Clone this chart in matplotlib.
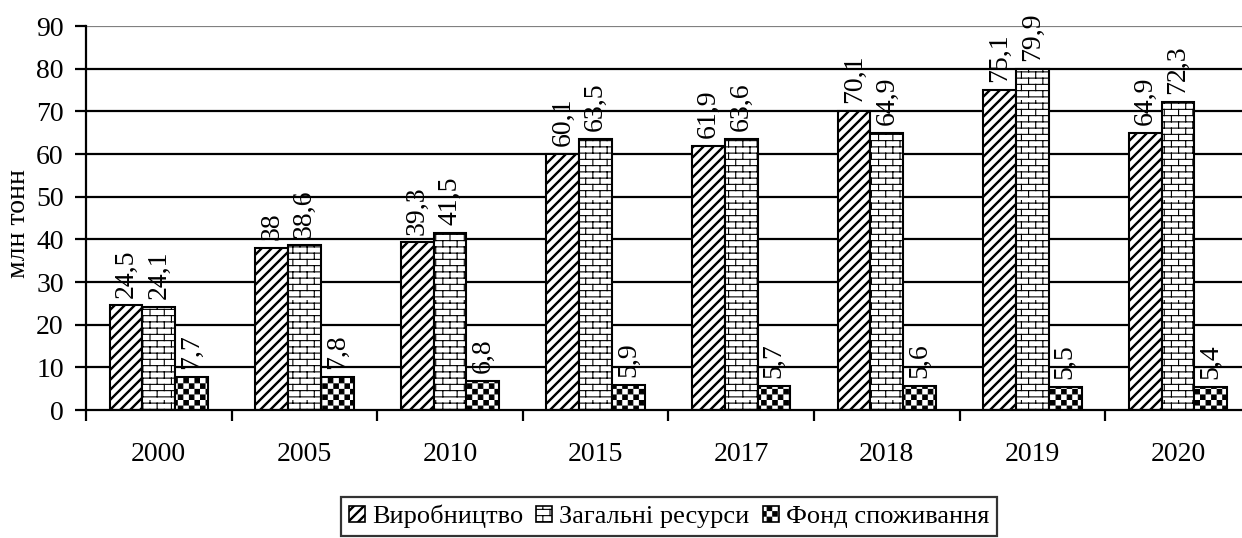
import numpy as np
import matplotlib
matplotlib.use("Agg")
import matplotlib.pyplot as plt
import matplotlib.hatch as mhatch
from matplotlib.path import Path
from matplotlib.patches import Patch

# ---------------- data ----------------
years = ["2000", "2005", "2010", "2015", "2017", "2018", "2019", "2020"]
production = [24.5, 38, 39.3, 60.1, 61.9, 70.1, 75.1, 64.9]
total_resources = [24.1, 38.6, 41.5, 63.5, 63.6, 64.9, 79.9, 72.3]
consumption = [7.7, 7.8, 6.8, 5.9, 5.7, 5.6, 5.5, 5.4]
series_names = ["Виробництво", "Загальні ресурси", "Фонд споживання"]
y_label = "млн тонн"
y_ticks = [0, 10, 20, 30, 40, 50, 60, 70, 80, 90]


# ---------------- custom hatches ----------------
class ThickDiag(mhatch.HatchPatternBase):
    def __init__(self, hatch, density):
        self.n = 10 if '/' in hatch else 0
        self.k = list(range(-self.n, self.n + 1)) if self.n else []
        self.num_vertices = 5 * len(self.k)

    def set_vertices_and_codes(self, vertices, codes):
        w = 0.009
        for idx, k in enumerate(self.k):
            c = k / self.n
            pts = [(c - w, 0), (c + w, 0), (c + 1 + w, 1), (c + 1 - w, 1), (c - w, 0)]
            vertices[idx * 5:(idx + 1) * 5] = pts
            codes[idx * 5:(idx + 1) * 5] = [Path.MOVETO, Path.LINETO, Path.LINETO,
                                            Path.LINETO, Path.CLOSEPOLY]


class Brick(mhatch.HatchPatternBase):
    rows = 16
    cols = 7

    def __init__(self, hatch, density):
        self.on = '-' in hatch
        if self.on:
            self.num_vertices = 2 * self.rows + 2 * self.rows * (self.cols + 1)
        else:
            self.num_vertices = 0

    def set_vertices_and_codes(self, vertices, codes):
        segs = []
        for j in range(self.rows):
            y = (j + 0.5) / self.rows
            segs.append(((0.0, y), (1.0, y)))
        for j in range(self.rows):
            y0 = (j + 0.5) / self.rows
            y1 = (j + 1.5) / self.rows
            off = 0.5 * (j % 2)
            for i in range(self.cols + 1):
                x = (i + off) / self.cols
                segs.append(((x, y0), (x, y1)))
        for idx, (a, b) in enumerate(segs):
            vertices[2 * idx] = a
            vertices[2 * idx + 1] = b
            codes[2 * idx] = Path.MOVETO
            codes[2 * idx + 1] = Path.LINETO


class Checker(mhatch.HatchPatternBase):
    cells = 18

    def __init__(self, hatch, density):
        if '.' in hatch:
            self.sq = [(i, j) for i in range(self.cells) for j in range(self.cells)
                       if (i + j) % 2 == 0]
        else:
            self.sq = []
        self.num_vertices = 5 * len(self.sq)

    def set_vertices_and_codes(self, vertices, codes):
        c = 1.0 / self.cells
        s = c - 0.011
        for idx, (i, j) in enumerate(self.sq):
            x0 = i * c + (c - s) / 2
            y0 = j * c + (c - s) / 2
            pts = [(x0, y0), (x0 + s, y0), (x0 + s, y0 + s), (x0, y0 + s), (x0, y0)]
            vertices[idx * 5:(idx + 1) * 5] = pts
            codes[idx * 5:(idx + 1) * 5] = [Path.MOVETO, Path.LINETO, Path.LINETO,
                                            Path.LINETO, Path.CLOSEPOLY]


mhatch._hatch_types = [ThickDiag, Brick, Checker]

plt.rcParams['font.family'] = ['Liberation Serif', 'DejaVu Serif']
plt.rcParams['hatch.linewidth'] = 0.8
plt.rcParams['hatch.color'] = 'black'

# ---------------- figure ----------------
W, H = 1242, 538
fig = plt.figure(figsize=(W / 100, H / 100), dpi=100)
ax = fig.add_axes([86 / W, (H - 410) / H, 8 * 145.6 / W, 384 / H])

x = np.arange(len(years))
bw = 0.225
hatches = ['/', '-', '.']
all_series = [production, total_resources, consumption]

ax.set_xlim(-0.5, len(years) - 0.5)
ax.set_ylim(0, 90)

# gridlines
for yv in y_ticks[1:]:
    ax.axhline(yv, color='#808080' if yv == 90 else 'black', lw=1.6, zorder=1)

for k, (vals, h) in enumerate(zip(all_series, hatches)):
    pos = x + (k - 1) * bw
    ax.bar(pos, vals, width=bw, color='white', edgecolor='black', hatch=h,
           linewidth=1.5, zorder=2)
    for px, v in zip(pos, vals):
        lab = f"{v:g}".replace('.', ',')
        ax.text(px, v + 1.8, lab, rotation=90, ha='center', va='bottom',
                fontsize=20, zorder=3)

# axes styling
for s in ['top', 'right']:
    ax.spines[s].set_visible(False)
ax.spines['left'].set_linewidth(1.6)
ax.spines['bottom'].set_linewidth(1.6)

ax.set_yticks(y_ticks)
ax.set_yticklabels([str(t) for t in y_ticks], fontsize=20)
ax.tick_params(axis='y', direction='out', length=8, width=1.6, pad=8)

ax.set_xticks(np.arange(len(years) + 1) - 0.5)
ax.set_xticklabels([])
ax.set_xticks(x, minor=True)
ax.set_xticklabels(years, minor=True, fontsize=20)
ax.tick_params(axis='x', which='major', direction='out', length=8, width=1.6)
ax.tick_params(axis='x', which='minor', length=0, pad=23)

fig.text(19 / W, 1 - 223 / H, y_label, rotation=90, ha='center', va='center',
         fontsize=20)

handles = [Patch(facecolor='white', edgecolor='black', hatch=h, linewidth=1.2)
           for h in hatches]
leg = fig.legend(handles, series_names, loc='upper center',
                 bbox_to_anchor=(669 / W, 1 - 497 / H), ncol=3, fontsize=19,
                 frameon=True, fancybox=False, edgecolor='black',
                 handlelength=0.6, handleheight=0.6, handletextpad=0.27,
                 columnspacing=0.5, borderpad=0.3, borderaxespad=0)
leg.get_frame().set_linewidth(1.6)

fig.savefig('out.png', dpi=100)
